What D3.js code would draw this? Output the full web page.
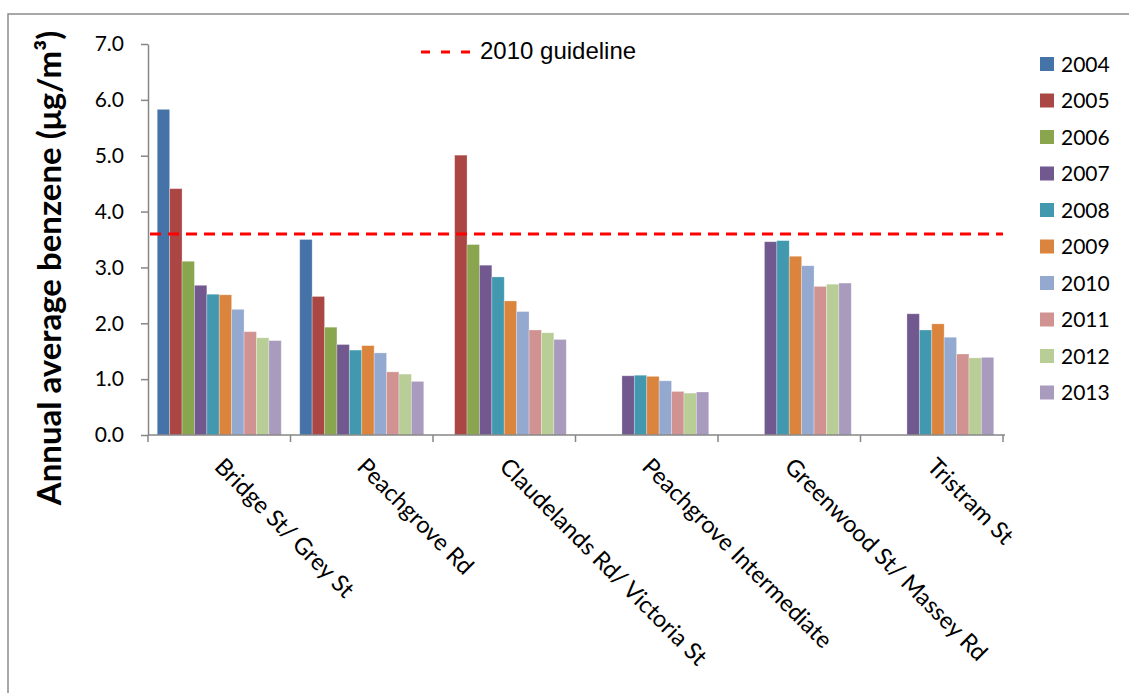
<!DOCTYPE html>
<html>
<head>
<meta charset="utf-8">
<script src="https://cdn.jsdelivr.net/npm/d3@7"></script>
<style>
  html, body { margin: 0; padding: 0; background: #fff; }
  svg { display: block; }
  text { font-family: Lato, "Open Sans", sans-serif; fill: #000; }
</style>
</head>
<body>
<svg id="chart" width="1129" height="693"></svg>
<script>
// Monitoring sites along the x axis
const sites = [
  "Bridge St/ Grey St",
  "Peachgrove Rd",
  "Claudelands Rd/ Victoria St",
  "Peachgrove Intermediate",
  "Greenwood St/ Massey Rd",
  "Tristram St"
];

const years = ["2004", "2005", "2006", "2007", "2008", "2009", "2010", "2011", "2012", "2013"];

// Annual average benzene (µg/m³) per site, one array per year; null = not monitored
const y2004 = [5.83, 3.50, null, null, null, null];
const y2005 = [4.41, 2.48, 5.01, null, null, null];
const y2006 = [3.11, 1.93, 3.41, null, null, null];
const y2007 = [2.68, 1.62, 3.04, 1.06, 3.46, 2.17];
const y2008 = [2.52, 1.52, 2.83, 1.07, 3.48, 1.88];
const y2009 = [2.51, 1.60, 2.40, 1.05, 3.20, 1.99];
const y2010 = [2.25, 1.47, 2.21, 0.97, 3.03, 1.75];
const y2011 = [1.85, 1.13, 1.88, 0.78, 2.66, 1.45];
const y2012 = [1.74, 1.09, 1.83, 0.75, 2.70, 1.38];
const y2013 = [1.69, 0.96, 1.71, 0.77, 2.72, 1.39];

const seriesValues = [y2004, y2005, y2006, y2007, y2008, y2009, y2010, y2011, y2012, y2013];

const yearColors = ["#4572A7", "#AA4643", "#89A54E", "#71588F", "#4198AF",
                    "#DB843D", "#93A9CF", "#D19392", "#B9CD96", "#A99BBD"];

const guideline = 3.6;
const guidelineLabel = "2010 guideline";
const yTicks = [0, 1, 2, 3, 4, 5, 6, 7];
const yTitle = "Annual average benzene (μg/m³)";

// Layout
const plot = { left: 148, right: 1003, top: 44, bottom: 435 };
const axisColor = "#868686";

const svg = d3.select("#chart");

// Outer chart frame
svg.append("rect")
  .attr("x", 8).attr("y", 14)
  .attr("width", 1140).attr("height", 700)
  .attr("fill", "none")
  .attr("stroke", "#8c8c8c")
  .attr("stroke-width", 1.5);

const x = d3.scaleBand().domain(sites).range([plot.left, plot.right]).padding(0);
const xYear = d3.scaleBand().domain(years).range([0, x.bandwidth()])
  .paddingInner(0).paddingOuter(0.745);
const y = d3.scaleLinear().domain([0, 7]).range([plot.bottom, plot.top]);

// Bars
const barData = [];
seriesValues.forEach((vals, si) => {
  vals.forEach((v, ci) => {
    if (v !== null) barData.push({ site: sites[ci], year: years[si], value: v, color: yearColors[si] });
  });
});

svg.append("g").selectAll("rect")
  .data(barData)
  .join("rect")
  .attr("x", d => x(d.site) + xYear(d.year))
  .attr("y", d => y(d.value))
  .attr("width", xYear.bandwidth())
  .attr("height", d => y(0) - y(d.value))
  .attr("fill", d => d.color)
  .attr("stroke", "#ffffff")
  .attr("stroke-opacity", 0.35)
  .attr("stroke-width", 0.8);

// Y axis
const yAxis = d3.axisLeft(y).tickValues(yTicks).tickFormat(d3.format(".1f"))
  .tickSizeOuter(0).tickSizeInner(7).tickPadding(17);
const gy = svg.append("g").attr("transform", `translate(${plot.left},0)`).call(yAxis);
gy.select(".domain").attr("stroke", axisColor).attr("stroke-width", 1.5);
gy.selectAll(".tick line").attr("stroke", axisColor).attr("stroke-width", 1.5);
gy.selectAll(".tick text")
  .style("font-family", "Lato, sans-serif")
  .style("font-size", "21px")
  .attr("fill", "#000");

// X axis: tick marks at category boundaries
const boundaries = sites.map(s => x(s)).concat([plot.right]);
svg.append("line")
  .attr("x1", plot.left).attr("x2", plot.right + 2)
  .attr("y1", plot.bottom).attr("y2", plot.bottom)
  .attr("stroke", axisColor).attr("stroke-width", 1.5);
svg.append("g").selectAll("line")
  .data(boundaries)
  .join("line")
  .attr("x1", d => d).attr("x2", d => d)
  .attr("y1", plot.bottom).attr("y2", plot.bottom + 7)
  .attr("stroke", axisColor).attr("stroke-width", 1.5);

// Rotated site labels
svg.append("g").selectAll("text")
  .data(sites)
  .join("text")
  .attr("transform", d => `translate(${x(d) + x.bandwidth() / 2 - 6},${plot.bottom + 33}) rotate(45)`)
  .attr("text-anchor", "start")
  .style("font-size", "23.5px")
  .text(d => d);

// Guideline
svg.append("line")
  .attr("x1", plot.left + 2).attr("x2", plot.right)
  .attr("y1", y(guideline)).attr("y2", y(guideline))
  .attr("stroke", "#FF0000").attr("stroke-width", 3)
  .attr("stroke-dasharray", "11,7");

// Guideline legend
svg.append("line")
  .attr("x1", 421).attr("x2", 470)
  .attr("y1", 52).attr("y2", 52)
  .attr("stroke", "#FF0000").attr("stroke-width", 3)
  .attr("stroke-dasharray", "9,11");
svg.append("text")
  .attr("x", 480).attr("y", 59)
  .style("font-family", "'Liberation Sans', Arial, sans-serif")
  .style("font-size", "24px")
  .text(guidelineLabel);

// Year legend
const legend = svg.append("g").selectAll("g")
  .data(years)
  .join("g")
  .attr("transform", (d, i) => `translate(1040,${64 + i * 36.5})`);
legend.append("rect")
  .attr("x", 0).attr("y", -7)
  .attr("width", 14).attr("height", 14)
  .attr("fill", (d, i) => yearColors[i]);
legend.append("text")
  .attr("x", 21).attr("y", 0)
  .attr("dy", "0.36em")
  .style("font-size", "21px")
  .text(d => d);

// Y axis title
svg.append("text")
  .attr("transform", "translate(61,268) rotate(-90)")
  .attr("text-anchor", "middle")
  .style("font-size", "33px")
  .style("font-weight", "bold")
  .text(yTitle);
</script>
</body>
</html>
